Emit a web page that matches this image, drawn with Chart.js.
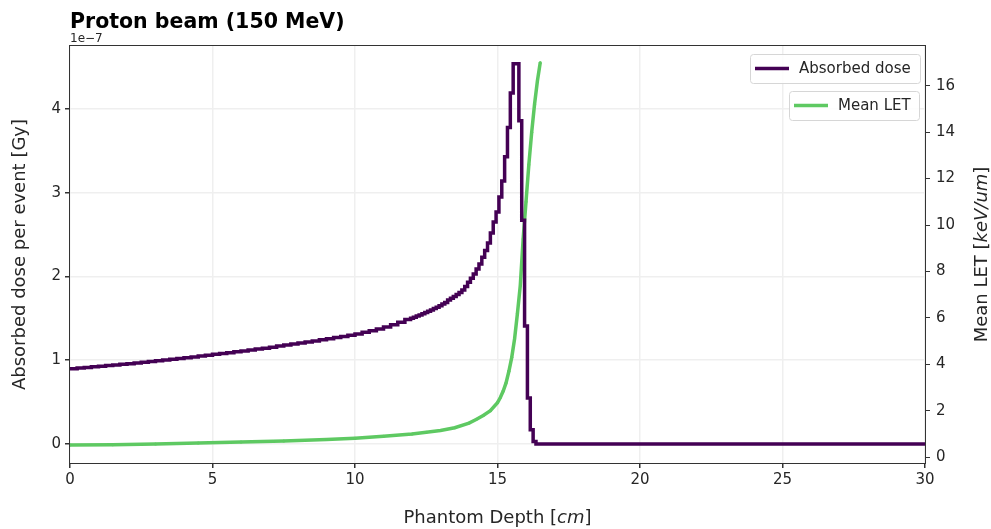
<!DOCTYPE html>
<html>
<head>
<meta charset="utf-8">
<script src="https://cdn.jsdelivr.net/npm/chart.js@4.4.1/dist/chart.umd.min.js"></script>
<style>
  html, body { margin: 0; padding: 0; background: #fff; }
  #wrap { width: 991px; height: 529px; }
</style>
</head>
<body>
<div id="wrap"><canvas id="bragg" width="991" height="529"></canvas></div>
<script>
// dose histogram: left edge of each depth bin [cm] and dose per event [1e-7 Gy]
const doseBinStart = [
  0, 0.25, 0.5, 0.75, 1, 1.25, 1.5, 1.75, 2, 2.25, 2.5, 2.75, 3, 3.25, 3.5, 3.75,
  4, 4.25, 4.5, 4.75, 5, 5.25, 5.5, 5.75, 6, 6.25, 6.5, 6.75, 7, 7.25, 7.5, 7.75,
  8, 8.25, 8.5, 8.75, 9, 9.25, 9.5, 9.75, 10, 10.25, 10.5, 10.75, 11, 11.25, 11.5, 11.75,
  11.95, 12.05, 12.15, 12.25, 12.35, 12.45, 12.55, 12.65, 12.75, 12.85, 12.95,
  13.05, 13.15, 13.25, 13.35, 13.45, 13.55, 13.65,
  13.75, 13.85, 13.95, 14.05, 14.15, 14.25, 14.35, 14.45, 14.55, 14.65, 14.75, 14.85, 14.95,
  15.05, 15.15, 15.25, 15.35, 15.45, 15.55, 15.65, 15.75, 15.85, 15.95, 16.05, 16.15, 16.25, 16.35
];
const doseE7 = [
  0.899, 0.906, 0.914, 0.921, 0.929, 0.936, 0.944, 0.951, 0.959, 0.968, 0.977, 0.986, 0.994, 1.003, 1.012, 1.021,
  1.030, 1.040, 1.050, 1.060, 1.070, 1.080, 1.090, 1.100, 1.111, 1.122, 1.133, 1.144, 1.156, 1.169, 1.181, 1.194,
  1.206, 1.219, 1.231, 1.244, 1.257, 1.271, 1.284, 1.298, 1.313, 1.333, 1.353, 1.373, 1.397, 1.425, 1.455, 1.485,
  1.500, 1.513, 1.527, 1.541, 1.555, 1.570, 1.585, 1.600, 1.617, 1.634, 1.652,
  1.670, 1.690, 1.720, 1.740, 1.760, 1.785, 1.810,
  1.84, 1.88, 1.93, 1.98, 2.03, 2.09, 2.15, 2.23, 2.31, 2.40, 2.52, 2.65, 2.77,
  2.95, 3.14, 3.43, 3.78, 4.19, 4.54, 4.54, 3.86, 2.67, 1.41, 0.55, 0.17, 0.03, 0
];
const phantomEnd = 30;

// mean LET along depth [cm] -> [keV/um]
const letDepth = [
  0, 1.5, 3, 4.5, 6, 7.5, 9, 10, 11, 12, 12.5, 13, 13.5, 14, 14.25, 14.5, 14.75,
  15, 15.1, 15.2, 15.3, 15.4, 15.5, 15.6, 15.7, 15.8, 15.9, 16, 16.1, 16.2, 16.3, 16.4, 16.5
];
const letValues = [
  0.52, 0.54, 0.57, 0.61, 0.65, 0.70, 0.76, 0.82, 0.90, 1.00, 1.07, 1.15, 1.27, 1.47, 1.62, 1.80, 2.0,
  2.35, 2.57, 2.85, 3.2, 3.7, 4.3, 5.1, 6.2, 7.4, 9.4, 11.0, 12.6, 14.0, 15.2, 16.2, 17.0
];

const doseTicks = [0, 1, 2, 3, 4];
const letTicks = [0, 2, 4, 6, 8, 10, 12, 14, 16];
const depthTicks = [0, 5, 10, 15, 20, 25, 30];

const PURPLE = '#440154';
const GREEN = '#5ec962';
const FONT = 'DejaVu Sans';
const TEXT = '#262626';

const doseData = doseBinStart.map((x, i) => ({ x: x, y: doseE7[i] }));
doseData.push({ x: phantomEnd, y: doseE7[doseE7.length - 1] });
const letData = letDepth.map((x, i) => ({ x: x, y: letValues[i] }));

function richText(ctx, parts, x, y, angle) {
  ctx.save();
  ctx.translate(x, y);
  ctx.rotate(angle);
  let total = 0;
  parts.forEach(p => { ctx.font = p.font; total += ctx.measureText(p.text).width; });
  let cx = -total / 2;
  ctx.textAlign = 'left';
  ctx.textBaseline = 'middle';
  ctx.fillStyle = TEXT;
  parts.forEach(p => {
    ctx.font = p.font;
    ctx.fillText(p.text, cx, 0);
    cx += ctx.measureText(p.text).width;
  });
  ctx.restore();
}

function roundRect(ctx, x, y, w, h, r) {
  ctx.beginPath();
  ctx.moveTo(x + r, y);
  ctx.lineTo(x + w - r, y);
  ctx.arcTo(x + w, y, x + w, y + r, r);
  ctx.lineTo(x + w, y + h - r);
  ctx.arcTo(x + w, y + h, x + w - r, y + h, r);
  ctx.lineTo(x + r, y + h);
  ctx.arcTo(x, y + h, x, y + h - r, r);
  ctx.lineTo(x, y + r);
  ctx.arcTo(x, y, x + r, y, r);
  ctx.closePath();
}

function legendBox(ctx, x, y, w, h, label, color) {
  ctx.save();
  roundRect(ctx, x + 0.5, y + 0.5, w, h, 3);
  ctx.fillStyle = 'rgba(255,255,255,0.85)';
  ctx.fill();
  ctx.strokeStyle = '#d6d6d6';
  ctx.lineWidth = 1;
  ctx.stroke();
  ctx.strokeStyle = color;
  ctx.lineWidth = 3.5;
  ctx.beginPath();
  ctx.moveTo(x + 5, y + h / 2);
  ctx.lineTo(x + 39, y + h / 2);
  ctx.stroke();
  ctx.fillStyle = TEXT;
  ctx.font = '15px "' + FONT + '"';
  ctx.textBaseline = 'middle';
  ctx.fillText(label, x + 49, y + h / 2 + 0.5);
  ctx.restore();
}

const decorations = {
  id: 'decorations',
  afterDraw(chart) {
    const ctx = chart.ctx;
    const a = chart.chartArea;
    ctx.save();
    // frame
    ctx.strokeStyle = '#333';
    ctx.lineWidth = 1;
    ctx.strokeRect(a.left - 0.5, a.top - 0.5, a.right - a.left + 1, a.bottom - a.top + 1);

    // title and offset
    ctx.fillStyle = '#000';
    ctx.font = 'bold 20.5px "' + FONT + '"';
    ctx.textBaseline = 'alphabetic';
    ctx.fillText('Proton beam (150 MeV)', a.left, 27.5);
    ctx.fillStyle = TEXT;
    ctx.font = '12px "' + FONT + '"';
    ctx.fillText('1e\u22127', a.left, 41.5);

    const reg = '18px "' + FONT + '"';
    const ital = 'italic 18px "' + FONT + '"';
    richText(ctx, [{ text: 'Absorbed dose per event [Gy]', font: reg }], 20, (a.top + a.bottom) / 2, -Math.PI / 2);
    richText(ctx, [{ text: 'Mean LET [', font: reg }, { text: 'keV/um', font: ital }, { text: ']', font: reg }],
      982, (a.top + a.bottom) / 2, -Math.PI / 2);
    richText(ctx, [{ text: 'Phantom Depth [', font: reg }, { text: 'cm', font: ital }, { text: ']', font: reg }],
      (a.left + a.right) / 2, 518, 0);

    const ds = chart.data.datasets;
    legendBox(ctx, 750, 54, 170, 29, ds[0].label, ds[0].borderColor);
    legendBox(ctx, 789, 91, 130, 29, ds[1].label, ds[1].borderColor);
    ctx.restore();
  }
};

new Chart(document.getElementById('bragg'), {
  type: 'line',
  data: {
    datasets: [
      {
        label: 'Absorbed dose',
        data: doseData,
        yAxisID: 'yDose',
        stepped: true,
        borderColor: PURPLE,
        borderWidth: 3.5,
        borderJoinStyle: 'miter',
        pointRadius: 0,
        fill: false
      },
      {
        label: 'Mean LET',
        data: letData,
        yAxisID: 'yLet',
        borderColor: GREEN,
        backgroundColor: GREEN,
        borderWidth: 3.5,
        pointRadius: 1.5,
        pointBorderWidth: 0,
        tension: 0,
        fill: false
      }
    ]
  },
  options: {
    responsive: false,
    animation: false,
    devicePixelRatio: 1,
    layout: { padding: { top: 46, left: 0, right: 0, bottom: 0 } },
    plugins: { legend: { display: false }, tooltip: { enabled: false } },
    scales: {
      x: {
        type: 'linear',
        min: 0, max: 30,
        afterFit(s) { s.height = 66; },
        afterBuildTicks(s) { s.ticks = depthTicks.map(v => ({ value: v })); },
        grid: { color: '#efefef', lineWidth: 1.5, tickColor: '#333', tickLength: 5 },
        border: { display: false },
        ticks: { color: TEXT, font: { family: FONT, size: 15 }, padding: 3, maxRotation: 0,
          callback: v => String(v) }
      },
      yDose: {
        type: 'linear',
        position: 'left',
        min: -0.227, max: 4.752,
        afterFit(s) { s.width = 70; },
        afterBuildTicks(s) { s.ticks = doseTicks.map(v => ({ value: v })); },
        grid: { color: '#efefef', lineWidth: 1.5, tickColor: '#333', tickLength: 5 },
        border: { display: false },
        ticks: { color: TEXT, font: { family: FONT, size: 15 }, padding: 4, callback: v => String(v) }
      },
      yLet: {
        type: 'linear',
        position: 'right',
        min: -0.25, max: 17.71,
        afterFit(s) { s.width = 66; },
        afterBuildTicks(s) { s.ticks = letTicks.map(v => ({ value: v })); },
        grid: { drawOnChartArea: false, tickColor: '#333', tickLength: 5 },
        border: { display: false },
        ticks: { color: TEXT, font: { family: FONT, size: 15 }, padding: 6, callback: v => String(v) }
      }
    }
  },
  plugins: [decorations]
});
</script>
</body>
</html>
